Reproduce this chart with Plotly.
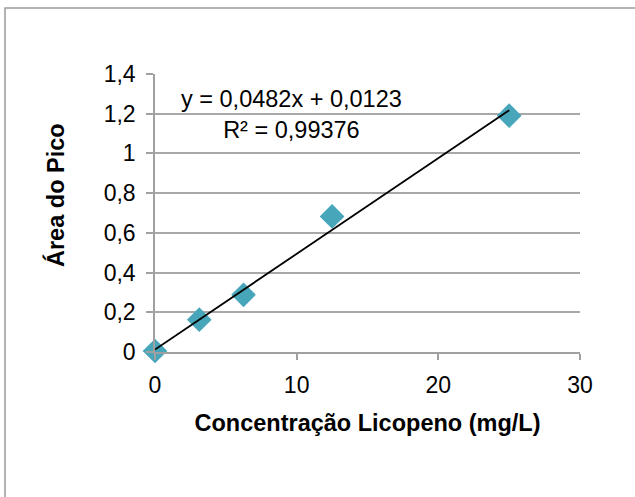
import plotly.graph_objects as go

# Calibration data: lycopene concentration vs. peak area
concentracao = [0, 3.125, 6.25, 12.5, 25]
area_pico = [0.005, 0.163, 0.288, 0.683, 1.190]

# Linear fit reported for the calibration curve
inclinacao = 0.0482
intercepto = 0.0123
r2 = 0.99376

x_ticks = [0, 10, 20, 30]
y_ticks = [0, 0.2, 0.4, 0.6, 0.8, 1.0, 1.2, 1.4]

fit_x = [min(concentracao), max(concentracao)]
fit_y = [inclinacao * v + intercepto for v in fit_x]

fig = go.Figure()
fig.add_trace(go.Scatter(
    x=concentracao, y=area_pico, mode="markers",
    marker=dict(symbol="diamond", size=19, color="#47a6ba"),
    cliponaxis=False, showlegend=False,
))
fig.add_trace(go.Scatter(
    x=fit_x, y=fit_y, mode="lines",
    line=dict(color="black", width=1.8),
    cliponaxis=False, showlegend=False,
))

font = "Liberation Sans, Arial, sans-serif"

fig.add_annotation(
    x=9.67, y=1.196, xref="x", yref="y",
    text="y = 0,0482x + 0,0123<br>R² = 0,99376",
    showarrow=False, align="center",
    font=dict(family=font, size=23.5, color="black"),
)

# vertical axis title
fig.add_annotation(
    x=-0.2353, y=0.5647, xref="paper", yref="paper",
    xanchor="center", yanchor="middle",
    text="<b>Área do Pico</b>", textangle=-90, showarrow=False,
    font=dict(family=font, size=23.5, color="black"),
)

# chart frame
fig.add_shape(type="rect", xref="paper", yref="paper",
              x0=-0.3529, x1=2, y0=-2, y1=1.2374,
              line=dict(color="#9a9a9a", width=1.5), layer="below")

fig.update_layout(
    width=635, height=497,
    margin=dict(l=155, r=55, t=74, b=145),
    paper_bgcolor="white", plot_bgcolor="white",
    separators=",.",
    font=dict(family=font, size=23, color="black"),
    xaxis=dict(
        range=[0, 30], tickvals=x_ticks, showgrid=False, zeroline=False,
        showline=True, linecolor="#a0a0a0", linewidth=1.5,
        ticks="outside", ticklen=6, tickcolor="#a0a0a0", tickwidth=1.5,
        title=dict(text="<b>Concentração Licopeno (mg/L)</b>",
                   font=dict(size=23.5), standoff=17),
        ticklabelstandoff=6,
    ),
    yaxis=dict(
        range=[0, 1.4], tickvals=y_ticks, showgrid=True,
        gridcolor="#a8a8a8", gridwidth=1.5, zeroline=False,
        showline=True, linecolor="#a0a0a0", linewidth=1.5,
        ticks="outside", ticklen=7, tickcolor="#a0a0a0", tickwidth=1.5,
        tickformat=".1~f",
        ticklabelstandoff=6,
    ),
)

fig.write_html("out.html")
